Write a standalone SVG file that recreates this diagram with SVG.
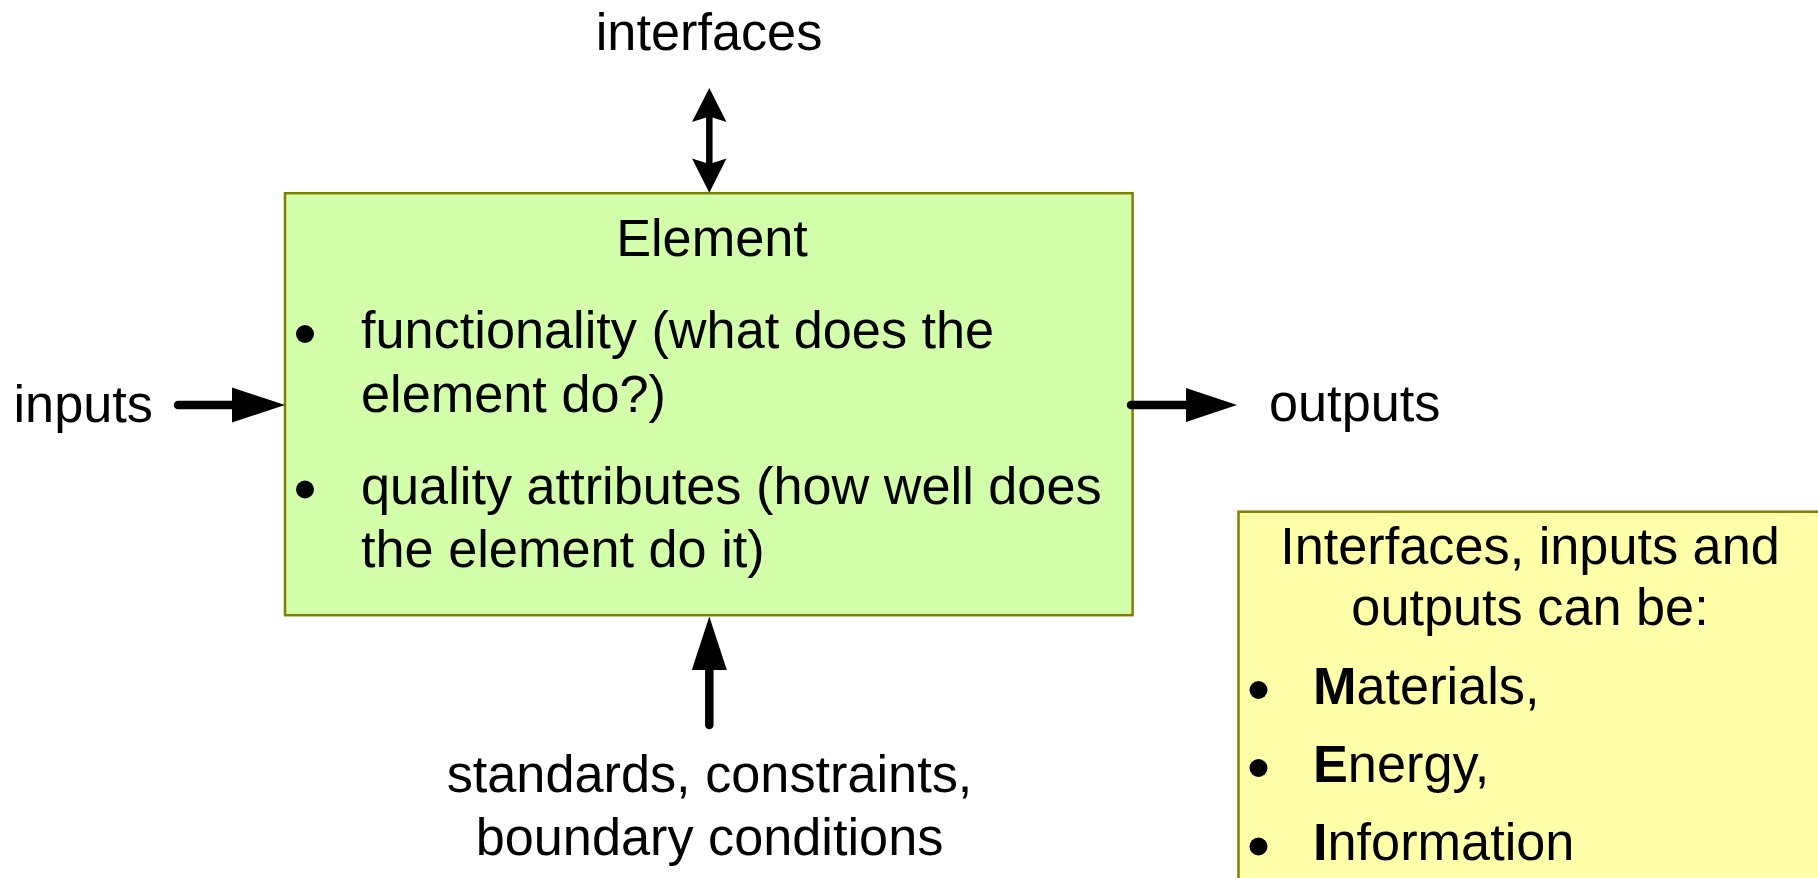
<svg xmlns="http://www.w3.org/2000/svg" width="1818" height="878" viewBox="0 0 1818 878">
  <style>
    text { font-family: "Liberation Sans", Arial, sans-serif; font-size: 52.25px; fill: #000; }
    .mid { text-anchor: middle; }
    .box { fill: #D4FFAA; stroke: #808000; stroke-width: 2.5; }
    .note { fill: #FFFFAA; stroke: #808000; stroke-width: 2.5; }
    .shaft { stroke: #000; stroke-width: 8.5; stroke-linecap: round; fill: none; }
    .thin { stroke: #000; stroke-width: 6.5; fill: none; }
    .head { fill: #000; stroke: none; }
    .bullet { fill: #000; }
    .b { font-weight: bold; }
  </style>
  <rect width="1818" height="878" fill="#FFFFFF"/>

  <g id="node-element">
    <rect class="box" x="285" y="193.2" width="847.6" height="422"/>
    <text class="mid" x="712" y="256">Element</text>
    <circle class="bullet" cx="305" cy="334" r="9"/>
    <text x="361" y="348">functionality (what does the</text>
    <text x="361" y="411.5">element do?)</text>
    <circle class="bullet" cx="305" cy="489.5" r="9"/>
    <text x="361" y="503.5">quality attributes (how well does</text>
    <text x="361" y="566.5">the element do it)</text>
  </g>

  <g id="node-note">
    <rect class="note" x="1238.5" y="511.7" width="620" height="420"/>
    <text class="mid" x="1530" y="563.5">Interfaces, inputs and</text>
    <text class="mid" x="1530" y="625">outputs can be:</text>
    <circle class="bullet" cx="1258.5" cy="690" r="9"/>
    <text x="1313" y="704"><tspan class="b">M</tspan>aterials,</text>
    <circle class="bullet" cx="1258.5" cy="768" r="9"/>
    <text x="1313" y="782"><tspan class="b">E</tspan>nergy,</text>
    <circle class="bullet" cx="1258.5" cy="846.5" r="9"/>
    <text x="1313" y="860"><tspan class="b">I</tspan>nformation</text>
  </g>

  <g id="label-interfaces">
    <text class="mid" x="709" y="50">interfaces</text>
  </g>
  <g id="label-inputs">
    <text x="13.5" y="421.5">inputs</text>
  </g>
  <g id="label-outputs">
    <text x="1269" y="421">outputs</text>
  </g>
  <g id="label-standards">
    <text class="mid" x="709.5" y="792">standards, constraints,</text>
    <text class="mid" x="709.5" y="855">boundary conditions</text>
  </g>

  <g id="connectors">
    <line class="thin" x1="709.3" y1="115" x2="709.3" y2="166"/>
    <polygon class="head" points="709.3,88 726.5,122 709.3,116.5 692,122"/>
    <polygon class="head" points="709.3,192.7 726.5,158.5 709.3,164 692,158.5"/>
    <line class="shaft" x1="178" y1="405" x2="234" y2="405"/>
    <polygon class="head" points="232,387.5 285,405 232,422.5"/>
    <line class="shaft" x1="1131" y1="405" x2="1188" y2="405"/>
    <polygon class="head" points="1186,388 1237,405 1186,422"/>
    <line class="shaft" x1="709.3" y1="725" x2="709.3" y2="668"/>
    <polygon class="head" points="691.8,670 709.3,616.5 726.8,670"/>
  </g>
</svg>
